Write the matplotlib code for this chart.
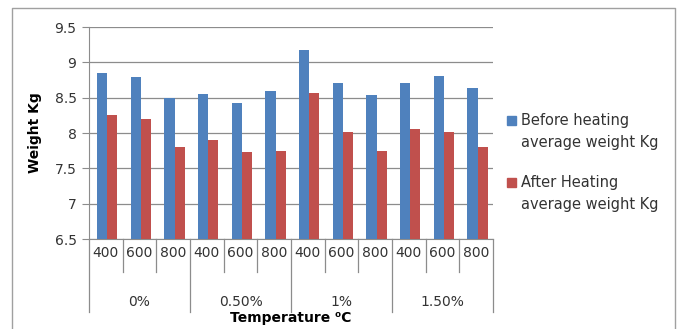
import numpy as np
import matplotlib.pyplot as plt
from matplotlib.lines import Line2D
from matplotlib.patches import Rectangle

# Weight of samples before and after heating, per additive % and temperature
groups = ['0%', '0.50%', '1%', '1.50%']
temps = ['400', '600', '800']
before = [8.85, 8.79, 8.50, 8.55, 8.43, 8.60, 9.17, 8.71, 8.54, 8.71, 8.81, 8.63]
after = [8.25, 8.20, 7.80, 7.90, 7.73, 7.74, 8.57, 8.01, 7.75, 8.05, 8.01, 7.80]
series_names = [['Before heating', 'average weight Kg'], ['After Heating', 'average weight Kg']]

blue = '#4F81BD'
red = '#C0504D'
grey = '#8C8C8C'
txt = '#333333'

W, H = 679, 329
fig = plt.figure(figsize=(W / 100, H / 100), dpi=100)
ax = fig.add_axes([89 / W, 1 - 239 / H, 404 / W, 212 / H])

n = len(before)
x = np.arange(n) + 0.5
w = 0.3
ax.bar(x - w / 2 + 0.04, before, w, color=blue, zorder=3)
ax.bar(x + w / 2 + 0.04, after, w, color=red, zorder=3)

ax.set_ylim(6.5, 9.5)
ax.set_xlim(0, n)
ax.set_yticks(np.arange(6.5, 9.51, 0.5))
ax.set_yticklabels(['6.5', '7', '7.5', '8', '8.5', '9', '9.5'], fontsize=10, color=txt)
ax.yaxis.grid(True, color=grey, lw=0.9, zorder=0)
ax.tick_params(axis='y', length=5, color=grey, pad=4)
ax.set_xticks([])
for s in ['top', 'right']:
    ax.spines[s].set_visible(False)
for s in ['left', 'bottom']:
    ax.spines[s].set_color(grey)

# two-level category axis below the bars
tr = ax.get_xaxis_transform()
px = 1 / 212
for i in range(n):
    ax.text(i + 0.5, -14 * px, temps[i % 3], transform=tr, ha='center', va='center',
            fontsize=10, color=txt)
for i in range(n + 1):
    depth = -73 * px if i % 3 == 0 else -33 * px
    ax.add_line(Line2D([i, i], [0, depth], transform=tr, color=grey, lw=0.9, clip_on=False))
for g, name in enumerate(groups):
    ax.text(g * 3 + 1.5, -63 * px, name, transform=tr, ha='center', va='center',
            fontsize=10, color=txt)
ax.text(n / 2, -79 * px, 'Temperature \u2070C', transform=tr, ha='center', va='center',
        fontsize=10, fontweight='bold')

fig.text(35 / W, 1 - 133 / H, 'Weight Kg', rotation=90, ha='center', va='center',
         fontsize=10, fontweight='bold')

# legend: square key + two text lines per series
for (line1, line2), color, y0 in zip(series_names, [blue, red], [120, 182]):
    fig.add_artist(Rectangle((507 / W, 1 - (y0 + 5) / H), 9 / W, 9 / H,
                             transform=fig.transFigure, color=color))
    fig.text(521 / W, 1 - y0 / H, line1, ha='left', va='center', fontsize=10.5, color=txt)
    fig.text(521 / W, 1 - (y0 + 22) / H, line2, ha='left', va='center', fontsize=10.5, color=txt)

# outer chart frame
fx = [12 / W, 12 / W, 675 / W, 675 / W]
fy = [-0.1, 1 - 8 / H, 1 - 8 / H, -0.1]
fig.add_artist(Line2D(fx, fy, transform=fig.transFigure, color='#A0A0A0', lw=1.0))

fig.savefig('out.png', dpi=100)
